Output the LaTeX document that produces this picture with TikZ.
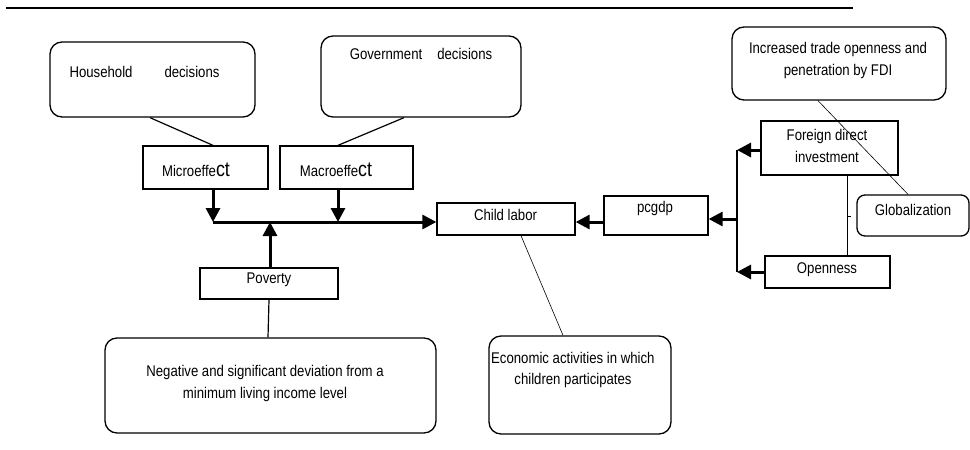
\documentclass[tikz,border=0pt]{standalone}
\usepackage{fontspec}
\setmainfont{Liberation Sans}[FakeStretch=0.85]
\usetikzlibrary{arrows.meta}
\begin{document}
\begin{tikzpicture}[x=1pt,y=-1pt,
  rbox/.style={draw, line width=1.3pt, rounded corners=12pt, inner sep=0pt},
  sbox/.style={draw, line width=1.3pt, inner sep=0pt},
  txt/.style={inner sep=0pt, font=\fontsize{15.5}{22}\selectfont, align=center},
  fineline/.style={line width=0.6pt},
  linkline/.style={line width=1.2pt},
  bigarrow/.style={line width=3pt, -{Triangle[length=14pt,width=14pt]}},
  joinline/.style={line width=1.8pt},
  rule/.style={line width=2.6pt}
]
\useasboundingbox (0,0) rectangle (970,450);
% top rule
\coordinate (r1) at (6,8);
\coordinate (r2) at (853,8);
\draw[rule] (r1) -- (r2);

% boxes
\node[rbox, minimum width=205pt, minimum height=75pt] (hh) at (152.5,79.5) {};
\node[txt] (hht) at (144.5,72) {Household\hspace{32pt}decisions};
\node[rbox, minimum width=200pt, minimum height=81pt] (gov) at (421,76.5) {};
\node[txt] (govt) at (421,54) {Government\hspace{15pt}decisions};

\node[sbox, minimum width=125pt, minimum height=43pt] (micro) at (205.5,167.5) {};
\node[txt] (microt) at (196,170) {Microeffe{\fontsize{21}{22}\selectfont ct}};
\node[sbox, minimum width=133pt, minimum height=43pt] (macro) at (346.5,167.5) {};
\node[txt] (macrot) at (336,170) {Macroeffe{\fontsize{21}{22}\selectfont ct}};

\node[sbox, minimum width=138pt, minimum height=32pt] (child) at (506,219) {};
\node[txt] (childt) at (505.5,215) {Child labor};
\node[sbox, minimum width=104pt, minimum height=39pt] (pcgdp) at (656,215.5) {};
\node[txt] (pcgdpt) at (655,208) {pcgdp};

\node[sbox, minimum width=138pt, minimum height=31pt] (pov) at (269,283.5) {};
\node[txt] (povt) at (269,280) {Poverty};
\node[rbox, minimum width=331pt, minimum height=95pt] (neg) at (270.5,385.5) {};
\node[txt] (negt) at (265,383.5) {Negative and significant deviation from a\\minimum living income level};

\node[rbox, minimum width=182pt, minimum height=98pt] (eco) at (580,385) {};
\node[txt, align=left, anchor=west] (ecot1) at (491,358) {Economic activities in which};
\node[txt] (ecot2) at (573,380) {children participates};

\node[rbox, minimum width=214pt, minimum height=73pt] (inc) at (839,63.5) {};
\node[txt] (inct) at (838,60) {Increased trade openness and\\penetration by FDI};
\node[sbox, minimum width=137pt, minimum height=54pt] (fdi) at (829.5,148) {};
\node[txt] (fdit) at (827,146) {Foreign direct\\investment};
\node[sbox, minimum width=125pt, minimum height=32pt] (open) at (827.5,272) {};
\node[txt] (opent) at (827,270) {Openness};
\node[rbox, rounded corners=8pt, minimum width=112pt, minimum height=41pt] (glob) at (913,215.5) {};
\node[txt] (globt) at (913,210) {Globalization};

% links to effect boxes
\draw[linkline] (150,0 |- hh.south) -- (213,0 |- micro.north);
\draw[linkline] (404,0 |- gov.south) -- (338,0 |- macro.north);

% junction line
\coordinate (jl) at (213,222);
\coordinate (jm) at (338,222);
\coordinate (jp) at (270,222);
\draw[bigarrow] (213,0 |- micro.south) -- (jl);
\draw[bigarrow] (338,0 |- macro.south) -- (jm);
\draw[bigarrow] (270,0 |- pov.north) -- (jp);
\draw[bigarrow] (jl) -- (jl -| child.west);

% poverty link
\draw[linkline] (pov.south) -- (268,0 |- neg.north);

% child labor to economic activities
\draw[fineline] (521,0 |- child.south) -- (563,0 |- eco.north);

% right side
\draw[bigarrow] (pcgdp.west |- 0,222) -- (child.east |- 0,222);
\coordinate (vt) at (737,150);
\coordinate (vb) at (737,272);
\coordinate (vm) at (737,219);
\draw[joinline] (vt) -- (vb);
\draw[bigarrow] (fdi.west |- vt) -- (vt);
\draw[bigarrow] (open.west |- vb) -- (vb);
\draw[bigarrow] (vm) -- (vm -| pcgdp.east);

% globalization links
\draw[fineline] (847,0 |- fdi.south) -- (847,0 |- open.north);
\coordinate (tk) at (851,216);
\draw[fineline] (847,216) -- (tk);
\draw[fineline] (818,0 |- inc.south) -- (908,0 |- glob.north);
\end{tikzpicture}
\end{document}
